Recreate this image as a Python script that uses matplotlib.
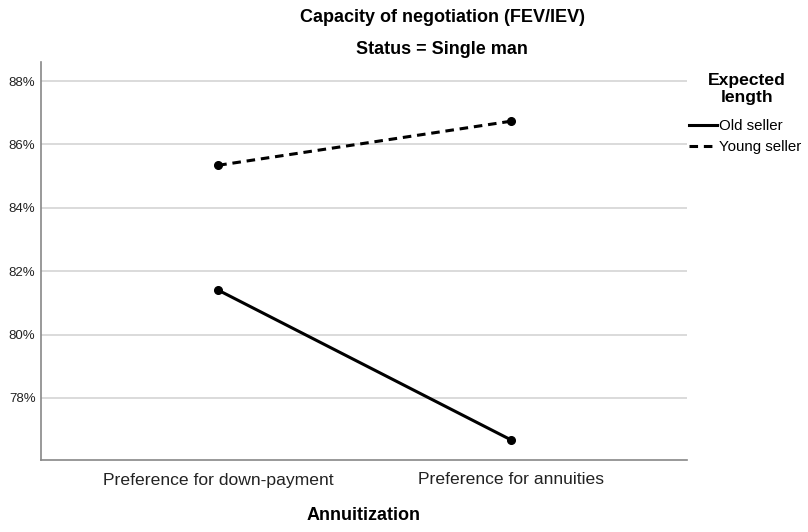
import matplotlib.pyplot as plt
from matplotlib.ticker import FuncFormatter

plt.rcParams['font.family'] = ['Liberation Sans', 'DejaVu Sans']

categories = ['Preference for down-payment', 'Preference for annuities']
old_seller = [81.40, 76.68]
young_seller = [85.34, 86.73]
yticks = [78, 80, 82, 84, 86, 88]

fig = plt.figure(figsize=(8.08, 5.32), dpi=100)
ax = fig.add_axes([41/808, 1 - 460/532, (687 - 41)/808, (460 - 62)/532])

x = list(range(len(categories)))
ax.plot(x, old_seller, color='black', lw=2.2, marker='o', ms=5.5, label='Old seller')
ax.plot(x, young_seller, color='black', lw=2.2, ls=(0, (2.8, 1.9)), marker='o', ms=5.5,
        label='Young seller')

ax.set_xlim(-0.606, 1.603)
ax.set_ylim(76.04, 88.6)
ax.set_yticks(yticks)
ax.yaxis.set_major_formatter(FuncFormatter(lambda v, p: f'{v:.0f}%'))
ax.set_xticks(x)
ax.set_xticklabels(categories, fontsize=12.6)
ax.tick_params(axis='y', labelsize=9.5, length=0, pad=4, colors='#222222')
ax.tick_params(axis='x', length=0, pad=9, colors='#222222')
ax.grid(axis='y', color='#d4d4d4', lw=1.2)
ax.set_axisbelow(True)
for s in ['top', 'right']:
    ax.spines[s].set_visible(False)
for s in ['left', 'bottom']:
    ax.spines[s].set_color('#888888')
    ax.spines[s].set_linewidth(1.2)

fig.text(364/808, 1 - 515/532, 'Annuitization', ha='center', va='center',
         fontsize=13, fontweight='bold')
fig.text(442/808, 1 - 18/532, 'Capacity of negotiation (FEV/IEV)', ha='center', va='center',
         fontsize=13, fontweight='bold')
fig.text(442/808, 1 - 50/532, 'Status = Single man', ha='center', va='center',
         fontsize=13, fontweight='bold')

# legend title drawn separately so its spacing can follow the reference
fig.text(747/808, 1 - 89/532, 'Expected\nlength', ha='center', va='center',
         fontsize=12.6, fontweight='bold', linespacing=1.2, multialignment='center')
leg = ax.legend(loc='upper left', bbox_to_anchor=(689/808, 1 - 119/532),
                bbox_transform=fig.transFigure, frameon=False, fontsize=10.8,
                handlelength=1.85, handletextpad=0.15,
                labelspacing=0.45, borderaxespad=0, borderpad=0)
for h in leg.legend_handles:
    h.set_marker('')

fig.savefig('out.png', dpi=100)
